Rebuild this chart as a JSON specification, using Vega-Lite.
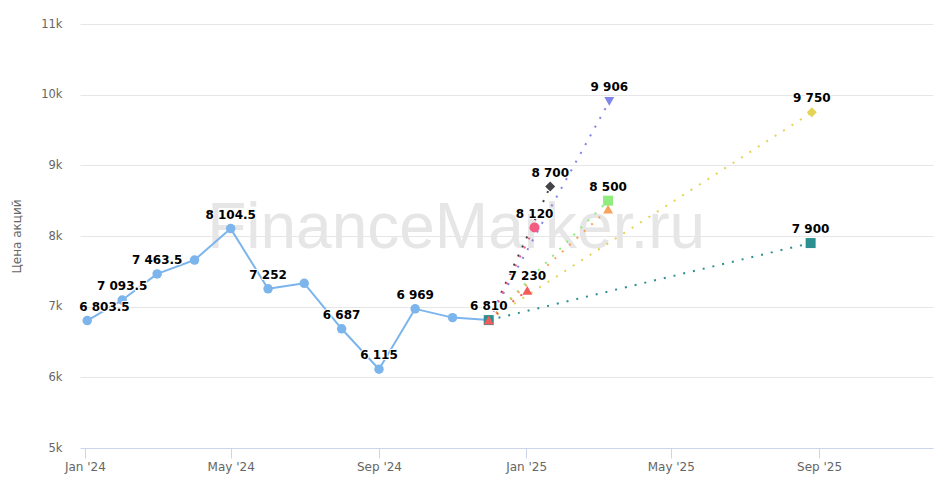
{
  "$schema": "https://vega.github.io/schema/vega-lite/v6.json",
  "width": 853,
  "height": 424,
  "autosize": "none",
  "padding": {"left": 80, "top": 24, "right": 5, "bottom": 43},
  "background": "white",
  "datasets": {
    "history": [
      {"date": "2024-01-03", "price": 6803.5},
      {"date": "2024-02-01", "price": 7093.5},
      {"date": "2024-03-01", "price": 7463.5},
      {"date": "2024-04-01", "price": 7660},
      {"date": "2024-05-01", "price": 8104.5},
      {"date": "2024-06-01", "price": 7252},
      {"date": "2024-07-01", "price": 7330},
      {"date": "2024-08-01", "price": 6687},
      {"date": "2024-09-01", "price": 6115},
      {"date": "2024-10-01", "price": 6969},
      {"date": "2024-11-01", "price": 6845},
      {"date": "2024-12-01", "price": 6810}
    ],
    "forecast": [
      {"series": "f1", "date": "2025-01-21", "price": 8700},
      {"series": "f2", "date": "2025-03-10", "price": 8500},
      {"series": "f3", "date": "2025-03-10", "price": 8380},
      {"series": "f4", "date": "2025-03-11", "price": 9906},
      {"series": "f5", "date": "2025-01-08", "price": 8120},
      {"series": "f6", "date": "2025-08-26", "price": 9750},
      {"series": "f7", "date": "2025-08-25", "price": 7900},
      {"series": "f8", "date": "2025-01-02", "price": 7230},
      {"series": "f1", "date": "2024-12-01", "price": 6810},
      {"series": "f2", "date": "2024-12-01", "price": 6810},
      {"series": "f3", "date": "2024-12-01", "price": 6810},
      {"series": "f4", "date": "2024-12-01", "price": 6810},
      {"series": "f5", "date": "2024-12-01", "price": 6810},
      {"series": "f6", "date": "2024-12-01", "price": 6810},
      {"series": "f7", "date": "2024-12-01", "price": 6810},
      {"series": "f8", "date": "2024-12-01", "price": 6810}
    ],
    "watermark": [
      {"date": "2024-11-04", "price": 7830, "text": "FinanceMarker.ru"}
    ]
  },
  "encoding": {
    "x": {
      "field": "date",
      "type": "temporal",
      "title": null,
      "scale": {
        "type": "utc",
        "domain": [
          {"year": 2023, "month": 12, "date": 28, "utc": true},
          {"year": 2025, "month": 12, "date": 4, "hours": 12, "utc": true}
        ]
      },
      "axis": {
        "values": [
          {"year": 2024, "month": 1, "date": 1, "utc": true},
          {"year": 2024, "month": 5, "date": 1, "utc": true},
          {"year": 2024, "month": 9, "date": 1, "utc": true},
          {"year": 2025, "month": 1, "date": 1, "utc": true},
          {"year": 2025, "month": 5, "date": 1, "utc": true},
          {"year": 2025, "month": 9, "date": 1, "utc": true}
        ],
        "labelExpr": "utcFormat(datum.value, \"%b '%y\")",
        "grid": false,
        "domainColor": "#ccd6eb",
        "tickColor": "#ccd6eb",
        "tickSize": 10,
        "labelPadding": 3,
        "labelColor": "#666666",
        "labelFont": "DejaVu Sans",
        "labelFontSize": 12,
        "labelBaseline": "top"
      }
    },
    "y": {
      "field": "price",
      "type": "quantitative",
      "title": "Цена акций",
      "scale": {"domain": [5000, 11000], "nice": false, "zero": false},
      "axis": {
        "values": [5000, 6000, 7000, 8000, 9000, 10000, 11000],
        "format": "~s",
        "grid": true,
        "gridColor": "#e6e6e6",
        "domain": false,
        "ticks": false,
        "labelPadding": 18,
        "labelColor": "#666666",
        "labelFont": "DejaVu Sans",
        "labelFontSize": 11.5,
        "titleColor": "#666666",
        "titleFont": "DejaVu Sans",
        "titleFontSize": 12,
        "titleFontWeight": "normal",
        "titlePadding": 17
      }
    }
  },
  "layer": [
    {
      "data": {"name": "watermark"},
      "mark": {
        "type": "text",
        "font": "Liberation Sans",
        "fontSize": 64,
        "align": "center",
        "baseline": "alphabetic",
        "color": "#e6e6e6"
      },
      "encoding": {"text": {"field": "text"}}
    },
    {
      "data": {"name": "forecast"},
      "mark": {"type": "line", "strokeWidth": 2, "strokeDash": [2, 8]},
      "encoding": {
        "color": {
          "field": "series",
          "type": "nominal",
          "legend": null,
          "scale": {
            "domain": ["f1", "f2", "f3", "f4", "f5", "f6", "f7", "f8"],
            "range": ["#434348", "#90ed7d", "#f7a35c", "#8085e9", "#f15c80", "#e4d354", "#2b908f", "#f45b5b"]
          }
        }
      }
    },
    {
      "data": {"name": "history"},
      "mark": {"type": "line", "color": "#7cb5ec", "strokeWidth": 2, "strokeJoin": "round"},
      "encoding": {}
    },
    {
      "data": {"name": "history"},
      "mark": {"type": "point", "shape": "circle", "filled": true, "opacity": 1, "color": "#7cb5ec", "size": 90},
      "encoding": {}
    },
    {
      "data": {"name": "forecast"},
      "transform": [
        {"filter": "datum.price != 6810 || datum.series == 'f7' || datum.series == 'f8'"}
      ],
      "mark": {"type": "point", "filled": true, "opacity": 1, "size": 100},
      "encoding": {
        "color": {"field": "series", "type": "nominal", "legend": null},
        "shape": {
          "field": "series",
          "type": "nominal",
          "legend": null,
          "scale": {
            "domain": ["f1", "f2", "f3", "f4", "f5", "f6", "f7", "f8"],
            "range": ["diamond", "square", "triangle-up", "triangle-down", "circle", "diamond", "square", "triangle-up"]
          }
        }
      }
    },
    {
      "data": {"name": "history"},
      "transform": [
        {"filter": "indexof([4, 7, 11], month(datum.date) + 1) < 0 && datum.price != 6803.5"},
        {"calculate": "replace(format(datum.price, ',.1~f'), ',', ' ')", "as": "label"}
      ],
      "layer": [
        {
          "mark": {"type": "text", "font": "DejaVu Sans", "fontSize": 12, "fontWeight": "bold", "baseline": "middle", "dy": -14, "stroke": "white", "strokeWidth": 2, "strokeJoin": "round", "color": "white"},
          "encoding": {"text": {"field": "label"}}
        },
        {
          "mark": {"type": "text", "font": "DejaVu Sans", "fontSize": 12, "fontWeight": "bold", "baseline": "middle", "dy": -14, "color": "#000000"},
          "encoding": {"text": {"field": "label"}}
        }
      ]
    },
    {
      "data": {"name": "history"},
      "transform": [
        {"filter": "datum.price == 6803.5"},
        {"calculate": "replace(format(datum.price, ',.1~f'), ',', ' ')", "as": "label"}
      ],
      "layer": [
        {
          "mark": {"type": "text", "font": "DejaVu Sans", "fontSize": 12, "fontWeight": "bold", "align": "left", "baseline": "middle", "dx": -8, "dy": -14, "stroke": "white", "strokeWidth": 2, "strokeJoin": "round", "color": "white"},
          "encoding": {"text": {"field": "label"}}
        },
        {
          "mark": {"type": "text", "font": "DejaVu Sans", "fontSize": 12, "fontWeight": "bold", "align": "left", "baseline": "middle", "dx": -8, "dy": -14, "color": "#000000"},
          "encoding": {"text": {"field": "label"}}
        }
      ]
    },
    {
      "data": {"name": "forecast"},
      "transform": [
        {"filter": "datum.price != 6810 && datum.series != 'f3'"},
        {"calculate": "replace(format(datum.price, ',.1~f'), ',', ' ')", "as": "label"}
      ],
      "layer": [
        {
          "mark": {"type": "text", "font": "DejaVu Sans", "fontSize": 12, "fontWeight": "bold", "baseline": "middle", "dy": -14, "stroke": "white", "strokeWidth": 2, "strokeJoin": "round", "color": "white"},
          "encoding": {"text": {"field": "label"}}
        },
        {
          "mark": {"type": "text", "font": "DejaVu Sans", "fontSize": 12, "fontWeight": "bold", "baseline": "middle", "dy": -14, "color": "#000000"},
          "encoding": {"text": {"field": "label"}}
        }
      ]
    }
  ],
  "config": {"view": {"stroke": null}}
}
